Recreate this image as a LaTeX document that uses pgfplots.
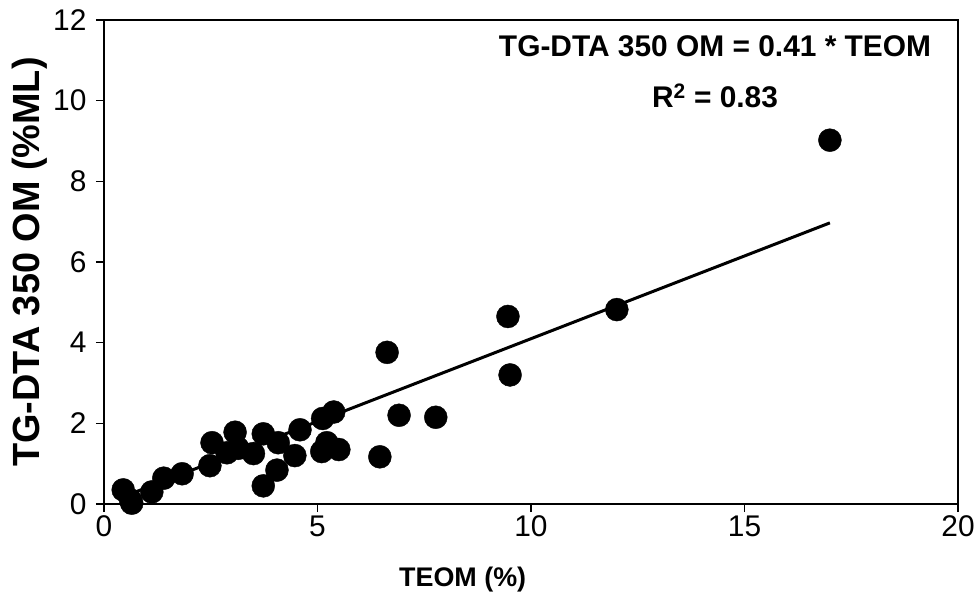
\documentclass[border=0pt]{standalone}
\usepackage{pgfplots}
\pgfplotsset{compat=1.18}
\usepackage{fontspec}
\setmainfont{Liberation Sans}
\begin{document}
\begin{tikzpicture}
\begin{axis}[
  at={(0,0)}, anchor=south west,
  scale only axis, width=854bp, height=484bp,
  xmin=0, xmax=20, ymin=0, ymax=12,
  axis x line*=bottom, axis y line*=left,
  xtick={0,5,10,15,20}, ytick={0,2,4,6,8,10,12},
  tick pos=left, tick align=outside, major tick length=8bp,
  axis line style={line width=1.6bp, -},
  every tick/.style={black, line width=1.5bp},
  tick label style={font=\fontsize{30}{30}\selectfont},
  yticklabel style={xshift=-6bp},
  /pgf/number format/assume math mode=true,
  xlabel={TEOM (\%)}, ylabel={TG-DTA 350 OM (\%ML)},
  xlabel style={font=\fontsize{27}{27}\selectfont\bfseries, at={(axis description cs:0.42,-0.157)}, anchor=center},
  ylabel style={font=\fontsize{38}{38}\selectfont\bfseries, at={(axis description cs:-0.0866,0.5)}, anchor=center},
  clip=false,
]
\addplot[only marks, mark=*, mark size=11.5bp, mark options={fill=black, draw=black}] coordinates {
(0.45,0.35) (0.62,0.10) (0.65,0.02) (1.12,0.30) (1.40,0.64) (1.83,0.75)
(2.48,0.95) (2.53,1.52) (2.88,1.27) (3.07,1.78) (3.14,1.38) (3.50,1.25)
(3.73,1.74) (4.08,1.52) (4.47,1.20) (4.05,0.84) (3.73,0.45) (4.59,1.84)
(5.12,2.12) (5.38,2.28) (5.10,1.30) (5.22,1.52) (5.50,1.35) (6.46,1.17)
(6.63,3.76) (6.91,2.20) (7.77,2.15) (9.46,4.65) (9.51,3.20) (12.01,4.82)
(17.00,9.02)
};
\addplot[black, line width=3bp] coordinates {(0.45,0.18) (17.0,6.97)};
\draw[black, line width=1.4bp] (axis cs:0,12) -- (axis cs:20,12) -- (axis cs:20,0);
\node[font=\fontsize{30}{30}\selectfont\bfseries] at (axis cs:14.31,11.35) {TG-DTA 350 OM = 0.41 * TEOM};
\node[font=\fontsize{30}{30}\selectfont\bfseries] at (axis cs:14.31,10.11) {R\textsuperscript{2} = 0.83};
\end{axis}
\path[use as bounding box] (-104bp,-97bp) rectangle (875bp,504bp);
\end{tikzpicture}
\end{document}
